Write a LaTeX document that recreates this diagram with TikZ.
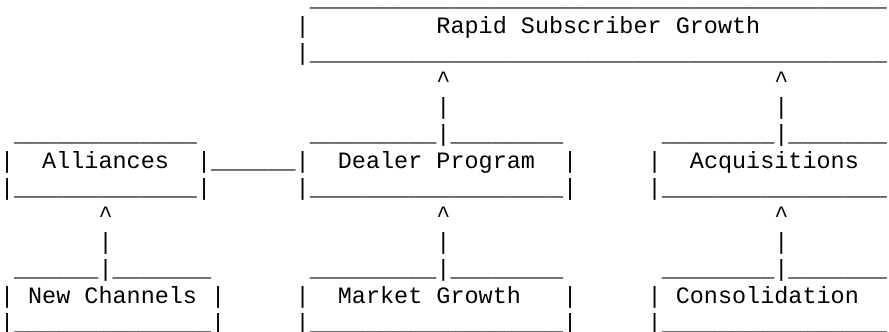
\documentclass[tikz,border=0pt]{standalone}
\usepackage{fontspec}
\newfontfamily\chartfont{Liberation Mono}
% a run of n underscores in the chart font
\newcommand\unders[1]{\foreach\i in {1,...,#1}{\textunderscore}}
\newcommand\vbar{\textbar}
\newcommand\caret{\textasciicircum}
\tikzset{
  cell/.style={anchor=base west, inner sep=0pt, outer sep=0pt,
    font=\chartfont\fontsize{23.46pt}{27pt}\selectfont, text=black},
}
\begin{document}
\begin{tikzpicture}[x=14.08pt, y=-27pt]
  \useasboundingbox (0pt,-20.7pt) rectangle (889pt,-352.7pt);

  % Rapid Subscriber Growth box (its right side runs past the page edge)
  \node[cell] (rapidTop)   at (22,1) {\unders{41}};
  \node[cell] (rapidLeft)  at (21,2) {\vbar};
  \node[cell] (rapid)      at (31,2) {Rapid Subscriber Growth};
  \node[cell] (rapidBot)   at (21,3) {\vbar\unders{41}};

  % arrows up into the top box
  \node[cell] (upA1) at (31,4) {\caret};
  \node[cell] (upB1) at (55,4) {\caret};
  \node[cell] (stA1) at (31,5) {\vbar};
  \node[cell] (stB1) at (55,5) {\vbar};

  % middle row of boxes: tops
  \node[cell] (allTop)  at (1,6)  {\unders{13}};
  \node[cell] (dealTop) at (22,6) {\unders{9}\vbar\unders{8}};
  \node[cell] (acqTop)  at (47,6) {\unders{8}\vbar\unders{7}};

  % middle row of boxes: labels
  \node[cell] (allL)    at (0,7)  {\vbar};
  \node[cell] (alliances) at (3,7) {Alliances};
  \node[cell] (link)    at (14,7) {\vbar\unders{6}\vbar};
  \node[cell] (dealer)  at (24,7) {Dealer Program};
  \node[cell] (dealR)   at (40,7) {\vbar};
  \node[cell] (acqL)    at (46,7) {\vbar};
  \node[cell] (acq)     at (49,7) {Acquisitions};

  % middle row of boxes: bottoms
  \node[cell] (allBot)  at (0,8)  {\vbar\unders{13}\vbar};
  \node[cell] (dealBot) at (21,8) {\vbar\unders{18}\vbar};
  \node[cell] (acqBot)  at (46,8) {\vbar\unders{16}};

  % arrows up into the middle row
  \node[cell] (upA2) at (7,9)  {\caret};
  \node[cell] (upB2) at (31,9) {\caret};
  \node[cell] (upC2) at (55,9) {\caret};
  \node[cell] (stA2) at (7,10)  {\vbar};
  \node[cell] (stB2) at (31,10) {\vbar};
  \node[cell] (stC2) at (55,10) {\vbar};

  % bottom row of boxes: tops
  \node[cell] (newTop)  at (1,11)  {\unders{6}\vbar\unders{7}};
  \node[cell] (mktTop)  at (22,11) {\unders{9}\vbar\unders{8}};
  \node[cell] (conTop)  at (47,11) {\unders{8}\vbar\unders{7}};

  % bottom row of boxes: labels
  \node[cell] (newL)    at (0,12)  {\vbar};
  \node[cell] (newch)   at (2,12)  {New Channels};
  \node[cell] (newR)    at (15,12) {\vbar};
  \node[cell] (mktL)    at (21,12) {\vbar};
  \node[cell] (market)  at (24,12) {Market Growth};
  \node[cell] (mktR)    at (40,12) {\vbar};
  \node[cell] (conL)    at (46,12) {\vbar};
  \node[cell] (consol)  at (48,12) {Consolidation};

  % bottom row of boxes: bottoms
  \node[cell] (newBot)  at (0,13)  {\vbar\unders{14}\vbar};
  \node[cell] (mktBot)  at (21,13) {\vbar\unders{18}\vbar};
  \node[cell] (conBot)  at (46,13) {\vbar\unders{16}};
\end{tikzpicture}
\end{document}
